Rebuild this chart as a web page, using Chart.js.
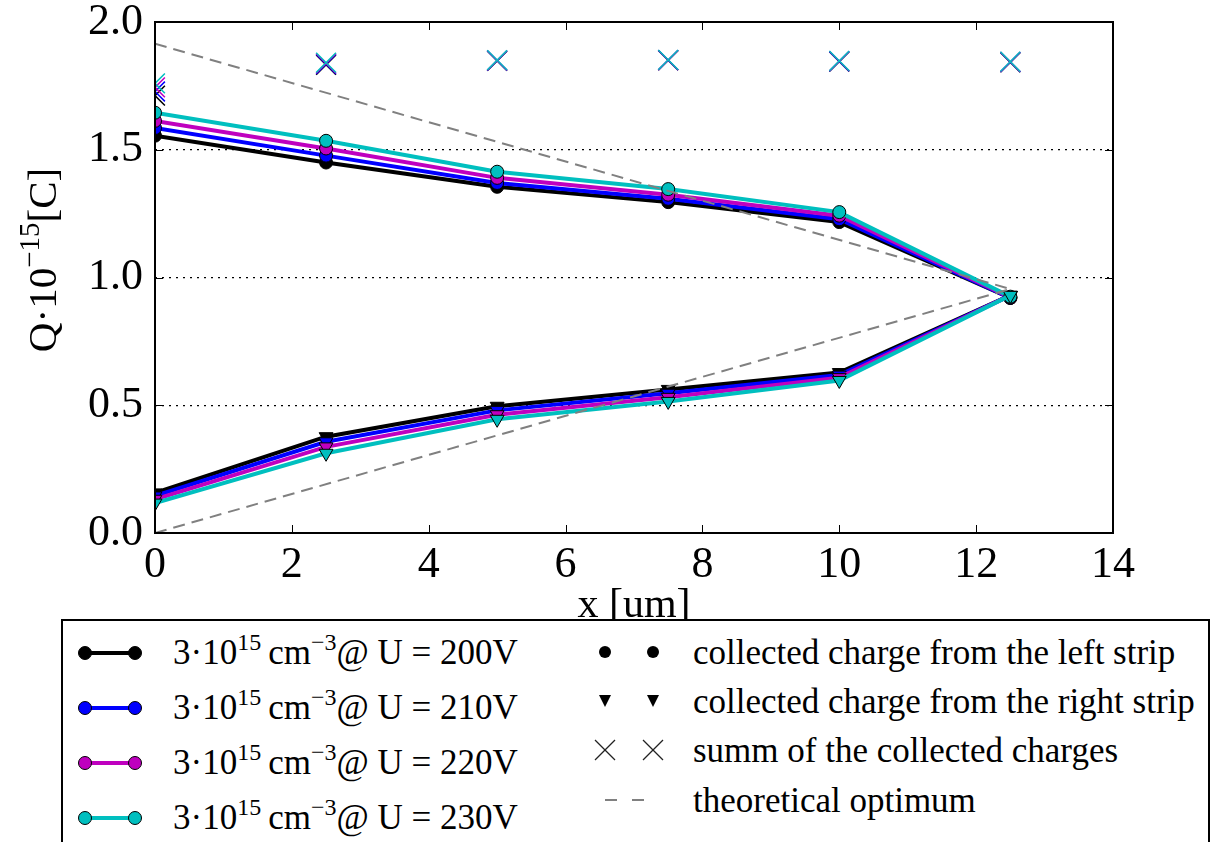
<!DOCTYPE html>
<html>
<head>
<meta charset="utf-8">
<script src="https://cdn.jsdelivr.net/npm/chart.js@4"></script>
<style>
  html, body { margin: 0; padding: 0; background: #fff; overflow: hidden; }
  #wrap { position: relative; width: 1218px; height: 842px; }
  #legend { position: absolute; left: 0; top: 0; }
</style>
</head>
<body>
<div id="wrap">
  <canvas id="myChart" width="1218" height="842"></canvas>
  <svg id="legend" width="1218" height="842" xmlns="http://www.w3.org/2000/svg"></svg>
</div>
<script>
// positions along the strip pitch
const xValues = [0, 2.5, 5, 7.5, 10, 12.5];
const voltages = ["200V", "210V", "220V", "230V"];
const colors = ["#000000", "#0000ff", "#bf00bf", "#00bfbf"];

// collected charge from the left strip
const left200 = [1.555, 1.450, 1.355, 1.295, 1.217, 0.920];
const left210 = [1.585, 1.477, 1.370, 1.308, 1.228, 0.920];
const left220 = [1.613, 1.505, 1.390, 1.324, 1.242, 0.922];
const left230 = [1.645, 1.535, 1.414, 1.346, 1.256, 0.925];

// collected charge from the right strip
const right200 = [0.157, 0.377, 0.496, 0.562, 0.628, 0.930];
const right210 = [0.145, 0.357, 0.480, 0.547, 0.618, 0.930];
const right220 = [0.132, 0.337, 0.463, 0.531, 0.608, 0.930];
const right230 = [0.117, 0.312, 0.445, 0.515, 0.597, 0.930];

// summ of the collected charges
const sum200 = [1.712, 1.832, 1.848, 1.850, 1.845, 1.842];
const sum210 = [1.728, 1.835, 1.849, 1.851, 1.846, 1.843];
const sum220 = [1.744, 1.838, 1.850, 1.851, 1.847, 1.844];
const sum230 = [1.760, 1.841, 1.851, 1.852, 1.848, 1.845];

// theoretical optimum
const optimumX = [0, 12.5];
const optimumLeft = [1.915, 0.955];
const optimumRight = [0, 0.955];

const xTicks = [0, 2, 4, 6, 8, 10, 12, 14];
const yTicks = [0.0, 0.5, 1.0, 1.5, 2.0];

const leftSeries = [left200, left210, left220, left230];
const rightSeries = [right200, right210, right220, right230];
const sumSeries = [sum200, sum210, sum220, sum230];

function toPoints(xs, ys) {
  return ys.map((y, i) => ({ x: xs[i], y: y }));
}

// build bottom-first, then reverse (chart.js draws index 0 on top)
const datasets = [];
voltages.forEach((v, i) => {
  datasets.push({
    label: "left " + v,
    data: toPoints(xValues, leftSeries[i]),
    borderColor: colors[i],
    borderWidth: 4,
    pointStyle: "circle",
    pointRadius: 6.5,
    pointBackgroundColor: colors[i],
    pointBorderColor: "#000",
    pointBorderWidth: 1,
    clip: 0,
  });
  datasets.push({
    label: "right " + v,
    data: toPoints(xValues, rightSeries[i]),
    borderColor: colors[i],
    borderWidth: 4,
    pointStyle: "triangle",
    pointRotation: 180,
    pointRadius: 8,
    pointBackgroundColor: colors[i],
    pointBorderColor: "#000",
    pointBorderWidth: 1,
    clip: 0,
  });
  datasets.push({
    label: "sum " + v,
    data: toPoints(xValues, sumSeries[i]),
    showLine: false,
    pointStyle: "crossRot",
    pointRadius: 14,
    pointBorderColor: colors[i],
    pointBorderWidth: 1.5,
    clip: 0,
  });
});
datasets.push({
  label: "optimum left",
  data: toPoints(optimumX, optimumLeft),
  borderColor: "#808080",
  borderWidth: 2,
  borderDash: [12, 7],
  pointRadius: 0,
  clip: 0,
});
datasets.push({
  label: "optimum right",
  data: toPoints(optimumX, optimumRight),
  borderColor: "#808080",
  borderWidth: 2,
  borderDash: [12, 7],
  pointRadius: 0,
  clip: 0,
});
datasets.reverse();

const serif = "'Liberation Serif', 'Times New Roman', serif";

// frame, inner ticks and axis titles
const framePlugin = {
  id: "frame",
  afterDraw(chart) {
    const { ctx, chartArea: a, scales } = chart;
    ctx.save();
    ctx.strokeStyle = "#000";
    ctx.lineWidth = 1;
    xTicks.forEach((t) => {
      const px = Math.round(scales.x.getPixelForValue(t)) + 0.5;
      ctx.beginPath();
      ctx.moveTo(px, a.bottom); ctx.lineTo(px, a.bottom - 8);
      ctx.moveTo(px, a.top); ctx.lineTo(px, a.top + 8);
      ctx.stroke();
    });
    yTicks.forEach((t) => {
      const py = Math.round(scales.y.getPixelForValue(t)) + 0.5;
      ctx.beginPath();
      ctx.moveTo(a.left, py); ctx.lineTo(a.left + 8, py);
      ctx.moveTo(a.right, py); ctx.lineTo(a.right - 8, py);
      ctx.stroke();
    });
    ctx.lineWidth = 2;
    ctx.strokeRect(a.left, a.top, a.right - a.left, a.bottom - a.top);

    // x title
    ctx.fillStyle = "#000";
    ctx.font = "42px " + serif;
    ctx.textAlign = "center";
    ctx.textBaseline = "alphabetic";
    ctx.fillText("x [um]", (a.left + a.right) / 2, 617);

    // y title with superscript
    const big = "41px " + serif;
    const small = "29px " + serif;
    const parts = [
      { t: "Q\u00b710", f: big, dy: 0 },
      { t: "\u221215", f: small, dy: -17 },
      { t: "[C]", f: big, dy: 0 },
    ];
    ctx.textAlign = "left";
    let total = 0;
    parts.forEach((p) => { ctx.font = p.f; p.w = ctx.measureText(p.t).width; total += p.w; });
    ctx.translate(56, 260);
    ctx.rotate(-Math.PI / 2);
    let cx = -total / 2;
    parts.forEach((p) => {
      ctx.font = p.f;
      ctx.fillText(p.t, cx, p.dy);
      cx += p.w;
    });
    ctx.restore();
  },
};

const ctx = document.getElementById("myChart").getContext("2d");
const myChart = new Chart(ctx, {
  type: "line",
  data: { datasets: datasets },
  options: {
    responsive: false,
    animation: false,
    devicePixelRatio: 1,
    layout: { padding: { left: 0, top: 22, right: 105, bottom: 0 } },
    elements: { line: { tension: 0 } },
    plugins: { legend: { display: false }, tooltip: { enabled: false } },
    scales: {
      x: {
        type: "linear",
        min: 0,
        max: 14,
        afterFit(scale) {
          scale.height = 309;
          scale.paddingLeft = 0;
          scale.paddingRight = 0;
        },
        afterBuildTicks(scale) { scale.ticks = xTicks.map((v) => ({ value: v })); },
        grid: { display: false, drawTicks: false },
        border: { display: false },
        ticks: {
          padding: 6,
          color: "#000",
          font: { family: serif, size: 44 },
          maxRotation: 0,
          callback: (v) => String(v),
        },
      },
      y: {
        type: "linear",
        min: 0,
        max: 2,
        afterFit(scale) {
          scale.width = 155;
          scale.paddingTop = 0;
          scale.paddingBottom = 0;
        },
        afterBuildTicks(scale) { scale.ticks = yTicks.map((v) => ({ value: v })); },
        grid: {
          drawTicks: false,
          lineWidth: 1.2,
          color: (c) => (c.tick && c.tick.value > 0 && c.tick.value < 2 ? "#000" : "rgba(0,0,0,0)"),
        },
        border: { display: false, dash: [2, 5] },
        ticks: {
          padding: 12,
          color: "#000",
          font: { family: serif, size: 44 },
          callback: (v) => Number(v).toFixed(1),
        },
      },
    },
  },
  plugins: [framePlugin],
});

// legend box (svg text)
const svgNS = "http://www.w3.org/2000/svg";
const svg = document.getElementById("legend");
function el(name, attrs, parent) {
  const e = document.createElementNS(svgNS, name);
  Object.keys(attrs).forEach((k) => e.setAttribute(k, attrs[k]));
  (parent || svg).appendChild(e);
  return e;
}
el("rect", { x: 62, y: 620, width: 1147, height: 260, fill: "#fff", stroke: "#000", "stroke-width": 2 });

voltages.forEach((v, i) => {
  const y = 653 + 55 * i;
  el("line", { x1: 85, y1: y, x2: 135, y2: y, stroke: colors[i], "stroke-width": 4 });
  el("circle", { cx: 85, cy: y, r: 6.5, fill: colors[i], stroke: "#000", "stroke-width": 1 });
  el("circle", { cx: 135, cy: y, r: 6.5, fill: colors[i], stroke: "#000", "stroke-width": 1 });
  const t = el("text", { x: 173, y: y + 11, "font-family": serif, "font-size": 35, fill: "#000" });
  const pieces = [
    ["3\u00b710", 0, 35],
    ["15", -14, 24],
    ["\u2009cm", 14, 35],
    ["\u22123", -14, 24],
    ["@ U = " + v, 14, 35],
  ];
  pieces.forEach((p) => {
    const s = el("tspan", { dy: p[1], "font-size": p[2] }, t);
    s.textContent = p[0];
  });
});

const rightLabels = [
  "collected charge from the left strip",
  "collected charge from the right strip",
  "summ of the collected charges",
  "theoretical optimum",
];
const rightRows = [652, 701, 750, 800];
rightRows.forEach((y, i) => {
  [605, 653].forEach((mx) => {
    if (i === 0) el("circle", { cx: mx, cy: y, r: 6, fill: "#000" });
    if (i === 1) el("polygon", { points: `${mx - 6},${y - 6} ${mx + 6},${y - 6} ${mx},${y + 6}`, fill: "#000" });
    if (i === 2) {
      el("line", { x1: mx - 10, y1: y - 10, x2: mx + 10, y2: y + 10, stroke: "#222", "stroke-width": 1.2 });
      el("line", { x1: mx - 10, y1: y + 10, x2: mx + 10, y2: y - 10, stroke: "#222", "stroke-width": 1.2 });
    }
  });
  if (i === 3) {
    el("line", { x1: 605, y1: y, x2: 617, y2: y, stroke: "#808080", "stroke-width": 2 });
    el("line", { x1: 632, y1: y, x2: 644, y2: y, stroke: "#808080", "stroke-width": 2 });
  }
  const t = el("text", { x: 693, y: y + 12, "font-family": serif, "font-size": 35, fill: "#000" });
  t.textContent = rightLabels[i];
});
</script>
</body>
</html>
